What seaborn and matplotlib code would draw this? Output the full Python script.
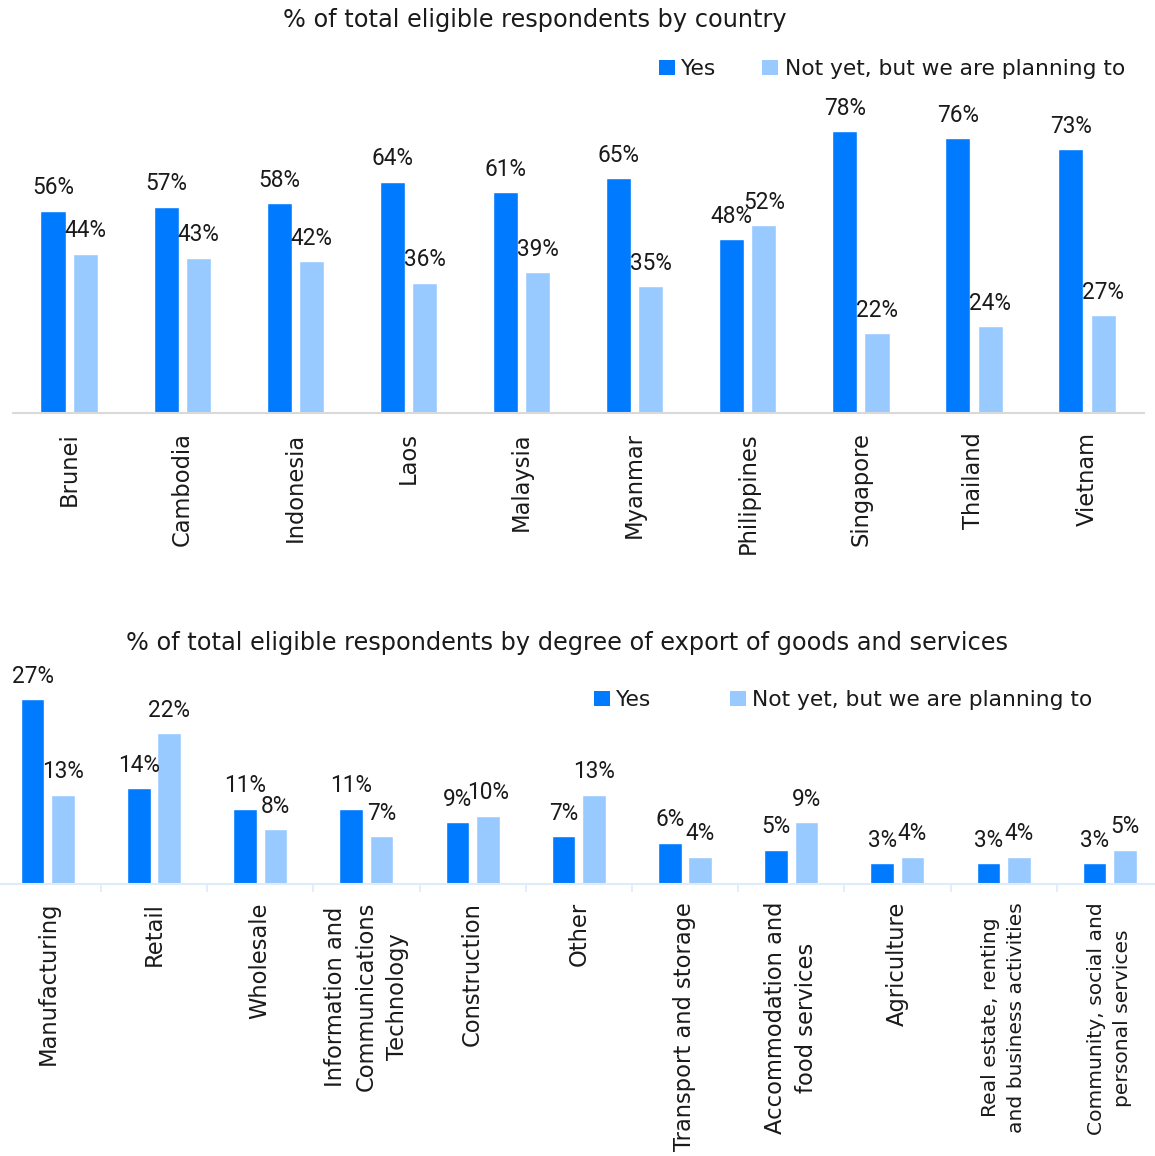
import numpy as np
import pandas as pd
import matplotlib
matplotlib.use("Agg")
import matplotlib.pyplot as plt
from matplotlib.patches import Patch
import seaborn as sns

# ---- data -------------------------------------------------------------
countries = ["Brunei", "Cambodia", "Indonesia", "Laos", "Malaysia", "Myanmar",
             "Philippines", "Singapore", "Thailand", "Vietnam"]
country_yes = [56, 57, 58, 64, 61, 65, 48, 78, 76, 73]
country_planning = [44, 43, 42, 36, 39, 35, 52, 22, 24, 27]

sectors = ["Manufacturing", "Retail", "Wholesale",
           "Information and\nCommunications\nTechnology",
           "Construction", "Other", "Transport and storage",
           "Accommodation and\nfood services", "Agriculture",
           "Real estate, renting\nand business activities",
           "Community, social and\npersonal services"]
sector_yes = [27, 14, 11, 11, 9, 7, 6, 5, 3, 3, 3]
sector_planning = [13, 22, 8, 7, 10, 13, 4, 9, 4, 4, 5]

series_names = ["Yes", "Not yet, but we are planning to"]
title_country = "% of total eligible respondents by country"
title_sector = "% of total eligible respondents by degree of export of goods and services"

# ---- style ------------------------------------------------------------
DARK = "#007BFF"
LIGHT = "#99CAFF"
sns.set_theme(style="white")
plt.rcParams["font.family"] = ["DejaVu Sans"]
FS = 16.3            # category labels
FS_TITLE = 17.3
FS_LEG = 15.7
FS_VAL = 16.3        # value labels above the bars
VAL_FONT = ["Roboto", "DejaVu Sans"]
TEXT = "#1a1a1a"

W, H = 1155, 1156
fig = plt.figure(figsize=(W / 100, H / 100), dpi=100)


def px_axes(left, right, base, top):
    return fig.add_axes([left / W, (H - base) / H, (right - left) / W, (base - top) / H])


def long_frame(cats, yes, plan):
    return pd.DataFrame({
        "category": list(cats) * 2,
        "value": list(yes) + list(plan),
        "series": [series_names[0]] * len(cats) + [series_names[1]] * len(cats),
    })


def draw(ax, cats, yes, plan, ymax):
    df = long_frame(cats, yes, plan)
    sns.barplot(data=df, x="category", y="value", hue="series",
                palette=[DARK, LIGHT], width=0.571, gap=0.22,
                saturation=1, legend=False, ax=ax)
    for cont in ax.containers:
        for bar in cont:
            h = bar.get_height()
            ax.annotate(f"{h:.0f}%", (bar.get_x() + bar.get_width() / 2, h),
                        xytext=(0, 16.5), textcoords="offset pixels",
                        ha="center", va="baseline", fontsize=FS_VAL,
                        family=VAL_FONT, color=TEXT, annotation_clip=False)
    ax.set_xlim(-0.5, len(cats) - 0.5)
    ax.set_ylim(0, ymax)
    ax.set_xlabel("")
    ax.set_ylabel("")
    ax.set_yticks([])
    for s in ["top", "right", "left"]:
        ax.spines[s].set_visible(False)
    ax.patch.set_alpha(0)


# ---- country panel ----------------------------------------------------
ax1 = px_axes(12.6, 1143.6, 413, 105.7)
draw(ax1, countries, country_yes, country_planning, 85)
ax1.spines["bottom"].set_color("#D9D9D9")
ax1.spines["bottom"].set_linewidth(1.5)
ax1.tick_params(axis="x", length=0, pad=14, labelsize=FS, labelcolor=TEXT)
for lab in ax1.get_xticklabels():
    lab.set_rotation(90)
    lab.set_va("top")
    lab.set_ha("center")

# ---- sector panel -----------------------------------------------------
ax2 = px_axes(-5.3, 1162.9, 884, 678.5)
draw(ax2, sectors, sector_yes, sector_planning, 30)
ax2.spines["bottom"].set_color("#DDEBFB")
ax2.spines["bottom"].set_linewidth(1.5)
ax2.set_xticks(np.arange(-0.5, len(sectors), 1), minor=True)
ax2.tick_params(axis="x", which="minor", length=6, width=1.2, color="#DDEBFB",
                direction="out", bottom=True)
ax2.tick_params(axis="x", which="major", length=0, pad=13, labelsize=FS,
                labelcolor=TEXT)
for lab in ax2.get_xticklabels():
    lab.set_rotation(90)
    lab.set_va("top")
    lab.set_ha("center")
    lab.set_multialignment("center")
    lab.set_linespacing(1.45)
    lines = lab.get_text().split("\n")
    # the two longest wrapped labels get a slightly smaller size to fit
    if len(lines) > 1 and max(len(line) for line in lines) >= 21:
        lab.set_fontsize(14.6)

# ---- titles and legends -----------------------------------------------
fig.text(535 / W, 1 - 20 / H, title_country, ha="center", va="center",
         fontsize=FS_TITLE, color=TEXT)
fig.text(567 / W, 1 - 643 / H, title_sector, ha="center", va="center",
         fontsize=FS_TITLE, color=TEXT)

handles = [Patch(facecolor=DARK, edgecolor="none", label=series_names[0]),
           Patch(facecolor=LIGHT, edgecolor="none", label=series_names[1])]
for x0, y0, colsp in [(659, 69, 2.1), (594, 700, 3.6)]:
    fig.legend(handles=handles, loc="center left",
               bbox_to_anchor=(x0 / W, 1 - y0 / H), ncol=2, frameon=False,
               fontsize=FS_LEG, handlelength=0.72, handleheight=0.72,
               handletextpad=0.3, columnspacing=colsp, borderpad=0,
               borderaxespad=0, labelcolor=TEXT)

fig.savefig("out.png", dpi=100)
